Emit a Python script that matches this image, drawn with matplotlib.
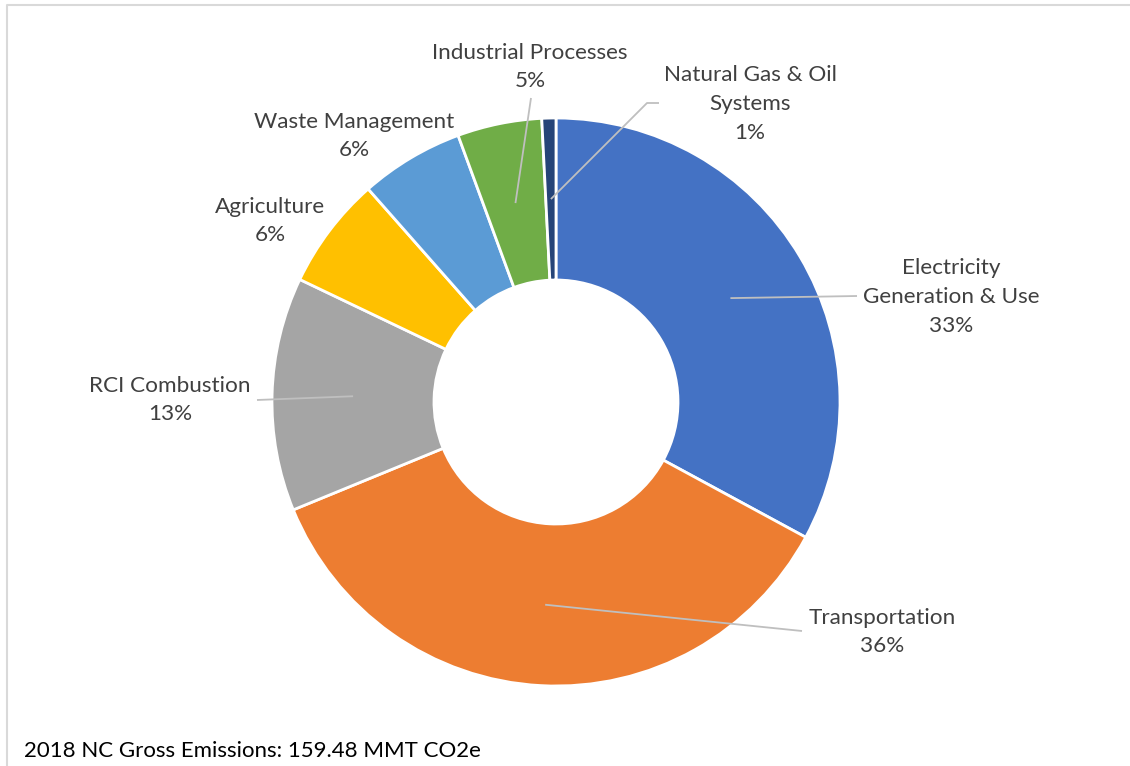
import matplotlib.pyplot as plt
import numpy as np

categories = ['Electricity\nGeneration & Use', 'Transportation', 'RCI Combustion',
              'Agriculture', 'Waste Management', 'Industrial Processes',
              'Natural Gas & Oil\nSystems']
shares = [32.9, 35.9, 13.3, 6.4, 5.9, 4.8, 0.8]
colors = ['#4472C4', '#ED7D31', '#A5A5A5', '#FFC000', '#5B9BD5', '#70AD47', '#264478']
footnote = '2018 NC Gross Emissions: 159.48 MMT CO2e'

plt.rcParams['font.family'] = ['Lato', 'DejaVu Sans']

W, H = 1130, 766
fig = plt.figure(figsize=(W / 100, H / 100), dpi=100)
ax = fig.add_axes([0, 0, 1, 1])

# donut geometry in pixels (y measured from the bottom)
cx, cy = 556, H - 402
R, r_in = 284, 122
wedges, _ = ax.pie(shares, colors=colors, startangle=90, counterclock=False,
                   center=(cx, cy), radius=R,
                   wedgeprops=dict(width=R - r_in, edgecolor='white', linewidth=2))
ax.set_xlim(0, W)
ax.set_ylim(0, H)
ax.axis('off')

# label places (pixel coords from top) and leader line ends (None = no line)
label_pos = [(951, 297), (882, 632), (170, 400), (270, 221), (354, 136), (530, 67), (750, 104)]
leader_end = [[(857, 296)], [(802, 631)], [(257, 400)], None, None, [(531, 98)],
              [(647, 103), (659, 103)]]

total = sum(shares)
for w, name, v, pos, ends in zip(wedges, categories, shares, label_pos, leader_end):
    txt = f'{name}\n{round(v / total * 100):.0f}%'
    ax.text(pos[0], H - pos[1], txt, ha='center', va='center', fontsize=16.2,
            color='#404040', linespacing=1.55)
    if ends:
        mid = np.deg2rad((w.theta1 + w.theta2) / 2)
        rm = (R + r_in) / 2
        xs = [cx + rm * np.cos(mid)] + [e[0] for e in ends]
        ys = [cy + rm * np.sin(mid)] + [H - e[1] for e in ends]
        ax.plot(xs, ys, color='#BFBFBF', lw=1.3, solid_capstyle='butt')

ax.text(24, H - 757, footnote, ha='left', va='baseline', fontsize=16, color='black')

# chart frame (cropped: only top and left visible)
ax.plot([7, 7, W], [0, H - 5, H - 5], color='#D9D9D9', lw=1.5)

fig.savefig('out.png', dpi=100)
